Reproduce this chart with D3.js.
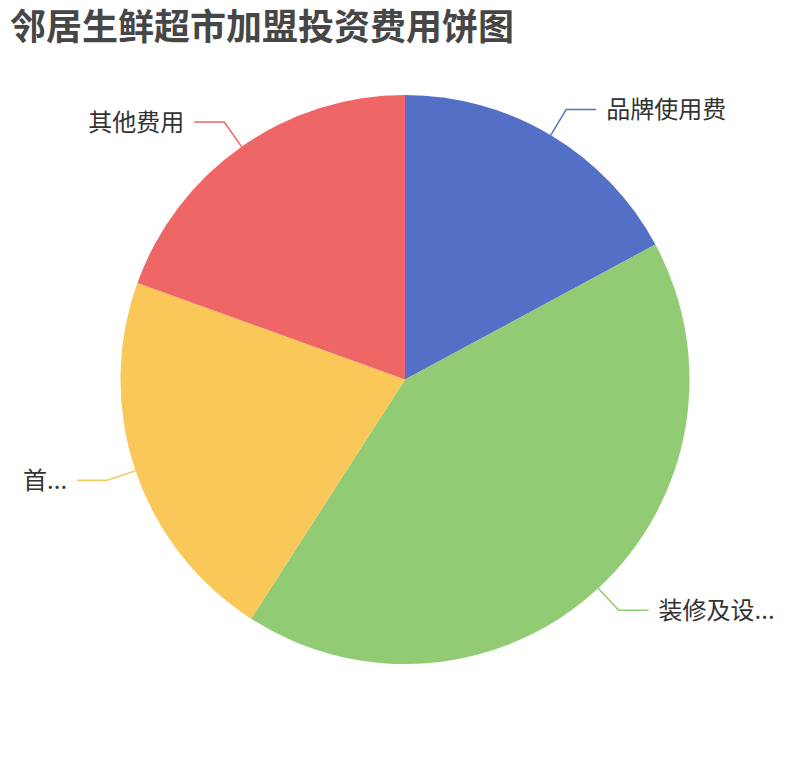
<!DOCTYPE html>
<html>
<head>
<meta charset="utf-8">
<script src="https://cdn.jsdelivr.net/npm/d3@7"></script>
<style>
  html, body { margin: 0; padding: 0; background: #fff; }
  svg text { font-family: "Noto Sans CJK SC", "Noto Sans", sans-serif; }
</style>
</head>
<body>
<svg id="chart" width="810" height="760"></svg>
<script>
// pie data, in 万元
const categories = ['品牌使用费', '装修及设备费', '首批进货费', '其他费用'];
const values = [8, 19.6, 10, 9.1];
const colors = ['#5470c6', '#91cc75', '#fac858', '#ee6666'];
const titleText = '邻居生鲜超市加盟投资费用饼图';

const W = 810, H = 760;
const cx = 405, cy = 379.5;
const radius = 284.5;
const LEN1 = 30, LEN2 = 30, GAP = 10, EDGE = 25;

const svg = d3.select('#chart');

svg.append('text')
  .attr('x', 10)
  .attr('y', 40)
  .attr('font-size', 36)
  .attr('font-weight', 'bold')
  .attr('fill', '#464646')
  .text(titleText);

const pie = d3.pie().sort(null).value(d => d.value);
const arcs = pie(categories.map((c, i) => ({ name: c, value: values[i], color: colors[i] })));

const arc = d3.arc().innerRadius(0).outerRadius(radius);

const chart = svg.append('g').attr('transform', `translate(${cx}, ${cy})`);

chart.selectAll('path.slice')
  .data(arcs)
  .join('path')
  .attr('class', 'slice')
  .attr('d', arc)
  .attr('fill', d => d.data.color);

// point at angle a (clockwise from top) and radius r
const polar = (a, r) => [r * Math.sin(a), -r * Math.cos(a)];

arcs.forEach(d => {
  const mid = (d.startAngle + d.endAngle) / 2;
  const p0 = polar(mid, radius);
  const p1 = polar(mid, radius + LEN1);
  const right = p1[0] >= 0;
  const p2 = [p1[0] + (right ? LEN2 : -LEN2), p1[1]];

  chart.append('polyline')
    .attr('points', [p0, p1, p2].map(p => p.join(',')).join(' '))
    .attr('fill', 'none')
    .attr('stroke', d.data.color)
    .attr('stroke-width', 1.5);

  const tx = p2[0] + (right ? GAP : -GAP);
  const label = chart.append('text')
    .attr('x', tx)
    .attr('y', p2[1])
    .attr('dy', '0.35em')
    .attr('font-size', 24)
    .attr('fill', '#333')
    .attr('text-anchor', right ? 'start' : 'end')
    .text(d.data.name);

  // truncate like the original when the label would run off the page
  const maxW = right ? (W - EDGE) - (cx + tx) : (cx + tx) - EDGE;
  const node = label.node();
  if (node.getComputedTextLength() > maxW) {
    let s = d.data.name;
    while (s.length > 1) {
      s = s.slice(0, -1);
      label.text(s + '...');
      if (node.getComputedTextLength() <= maxW) break;
    }
  }
});
</script>
</body>
</html>
